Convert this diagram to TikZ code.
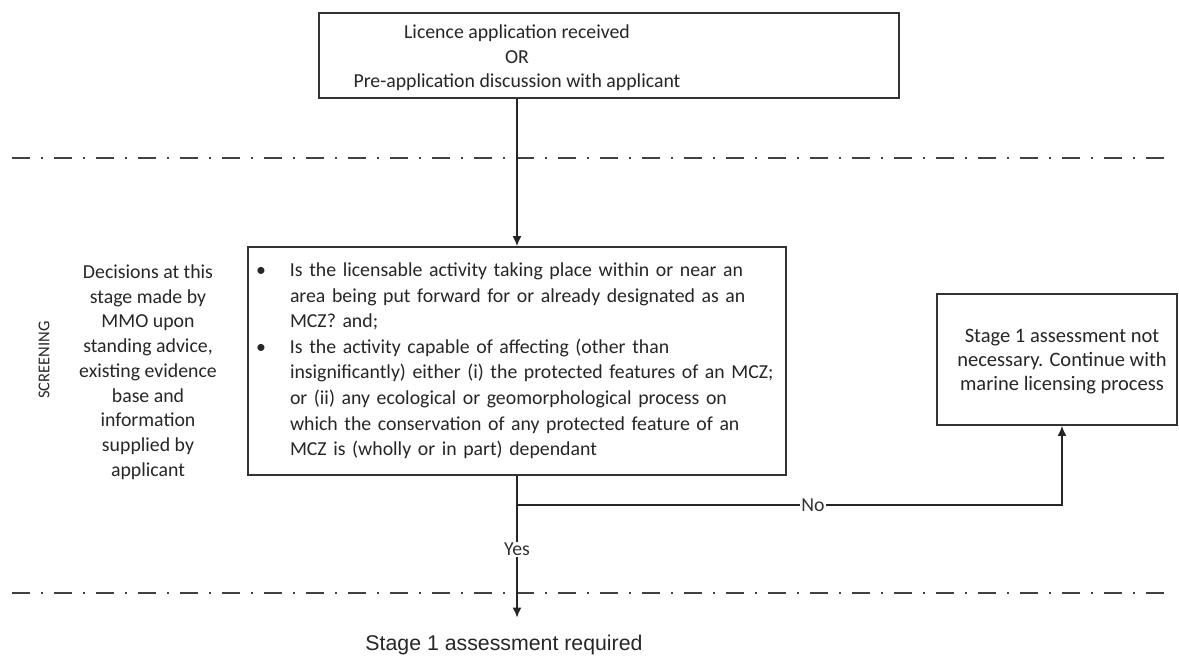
\documentclass[tikz,border=0pt]{standalone}
\usepackage{fontspec}
\setmainfont{Carlito}
\newfontfamily\arialfont{Liberation Sans}
\usepackage{tikz}
\usetikzlibrary{positioning,arrows.meta}
\tikzset{
	box/.style={draw=black!80, line width=1.7pt, fill=white, text=black!85},
	txt/.style={align=center, text=black!85},
	phaseline/.style={draw=black!75, line width=2.6pt, dash pattern=on 18pt off 11pt on 2pt off 11pt},
	conn/.style={draw=black!85, line width=1.5pt},
	tip/.style={-{Latex[length=10pt,width=9pt]}},
	lbl/.style={fill=white, inner sep=1pt, text=black!80}
}

\begin{document}
\begin{tikzpicture}[x=1pt, y=-1pt, font=\fontsize{19.8}{24.5}\selectfont]
		\useasboundingbox (0,0) rectangle (1179,657);
		% phase separators
		\draw[phaseline] (12,158) -- (1165,158);
		\draw[phaseline] (12,593) -- (1165,593);
		% boxes
		\node[box, minimum width=580pt, minimum height=85pt] (recvbox) at (609,55.5) {};
		\node[txt] (recv) at (517,58) {Licence application received\\OR\\Pre-application discussion with applicant};
		\node[box, minimum width=538pt, minimum height=228pt, text width=522pt, inner xsep=8pt, font=\fontsize{19.8}{25.6}\selectfont] (scr) at (517,361) {\noindent\begin{tabular}{@{}p{34pt}@{}l@{}}
			\textbullet & Is the licensable activity taking place within or near an\\
			& area being put forward for or already designated as an\\
			& MCZ? and;\\
			\textbullet & Is the activity capable of affecting (other than\\
			& insignificantly) either (i) the protected features of an MCZ;\\
			& or (ii) any ecological or geomorphological process on\\
			& which the conservation of any protected feature of an\\
			& MCZ is (wholly or in part) dependant
		\end{tabular}};
		\node[txt, font=\fontsize{19.8}{24.75}\selectfont] (note) at (148,372) {Decisions at this\\stage made by\\MMO upon\\standing advice,\\existing evidence\\base and\\information\\supplied by\\applicant};
		\node[txt, rotate=90, font=\fontsize{16.5}{18}\selectfont] (phase) at (44,360) {SCREENING};
		\node[box, minimum width=240pt, minimum height=131pt] (nores) at (1057,359.5) {};
		\node[txt, font=\fontsize{20.5}{24}\selectfont] (norestext) at (1062,362) {Stage 1 assessment not\\necessary. Continue with\\marine licensing process};
		\node[text=black!85, font=\arialfont\fontsize{21.3}{24}\selectfont] (req) at (504,645) {Stage 1 assessment required};
		% connectors
		\coordinate (nores in) at ([xshift=5pt]nores.south);
		\coordinate (req in) at ([yshift=14pt]req.north -| scr.south);
		\path (scr.south) ++(0,29) coordinate (br);
		\draw[conn,tip] (recv |- recvbox.south) -- (scr.north);
		\draw[conn,tip] (br) -- node[lbl, pos=0.543] {No} (br -| nores in) -- (nores in);
		\draw[conn,tip] (scr.south) -- node[lbl, pos=0.52] {Yes} (req in);
	\end{tikzpicture}
\end{document}
